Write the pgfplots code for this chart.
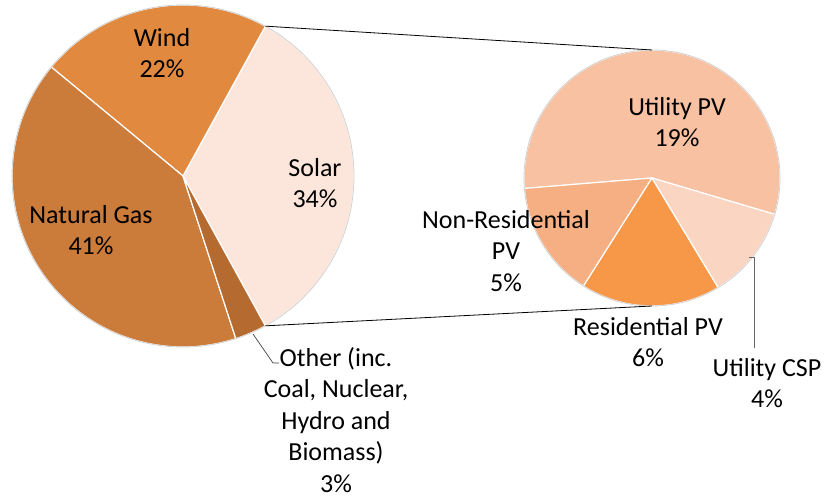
\documentclass[border=0pt]{standalone}
\usepackage{pgfplots}
\pgfplotsset{compat=1.18}
\usepackage{pgfplotstable}
\usepackage{fontspec}
\setmainfont{Carlito}

\definecolor{solar}{HTML}{FCE5DA}
\definecolor{wind}{HTML}{E0893F}
\definecolor{gas}{HTML}{CB7B3A}
\definecolor{other}{HTML}{B56A30}
\definecolor{upv}{HTML}{F8C1A1}
\definecolor{nrpv}{HTML}{F6AF83}
\definecolor{rpv}{HTML}{F79848}
\definecolor{csp}{HTML}{F9D5C2}

% first pie, counter-clockwise from the split-off slice
\pgfplotstableread[col sep=comma]{
name,value,col
Solar,34,solar
Wind,22,wind
Natural Gas,41,gas
Other,3,other
}\mainpie

% second pie (breakdown of solar)
\pgfplotstableread[col sep=comma]{
name,value,col
Utility PV,19,upv
Non-Residential PV,5,nrpv
Residential PV,6,rpv
Utility CSP,4,csp
}\subpie

% #1 table, #2 cx, #3 cy, #4 radius, #5 start angle
\newcommand\drawpie[5]{%
  \gdef\pietotal{0}%
  \pgfplotstableforeachcolumnelement{value}\of#1\as\pv{%
    \pgfmathsetmacro\pt{\pietotal+\pv}\xdef\pietotal{\pt}}%
  \xdef\pieA{#5}%
  \pgfplotstableforeachcolumnelement{value}\of#1\as\pv{%
    \pgfplotstablegetelem{\pgfplotstablerow}{col}\of#1\let\pc\pgfplotsretval
    \pgfmathsetmacro\pieB{\pieA+\pv/\pietotal*360}%
    \fill[fill=\pc,draw=white,line width=1.2pt] (axis cs:#2,#3) -- ++(\pieA:#4pt)
      arc[start angle=\pieA,end angle=\pieB,radius=#4pt] -- cycle;
    \xdef\pieA{\pieB}}%
  \draw[black!18,line width=0.8pt] (axis cs:#2,#3) circle[radius=#4pt];
}

\tikzset{lbl/.style={align=center,inner sep=0pt,font=\fontsize{26}{31.5}\selectfont}}

\begin{document}
\begin{tikzpicture}
\begin{axis}[x=1pt,y=1pt,xmin=0,xmax=827,ymin=0,ymax=500,hide axis,clip=false,
  anchor=south west,at={(0,0)}]
\pgfplotsextra{
  \pgfplotstablegetelem{0}{value}\of\mainpie
  \pgfmathsetmacro\half{\pgfplotsretval/100*180}
  \drawpie{\mainpie}{183}{324}{171}{-\half}
  \drawpie{\subpie}{652}{322}{128}{-16.5}
  % connector lines
  \draw[black,line width=0.8pt] (axis cs:183,324) ++(\half:171pt) -- (axis cs:652,450);
  \draw[black,line width=0.8pt] (axis cs:183,324) ++(-\half:171pt) -- (axis cs:652,194);
  % leader lines
  \draw[black!75,line width=0.7pt] (axis cs:253,166) -- (axis cs:273,137) -- (axis cs:279,137);
  \draw[black!60,line width=0.7pt] (axis cs:749,243) -- (axis cs:754,243) -- (axis cs:754,152);
  % labels
  \node[lbl] at (axis cs:162,447) {Wind\\22\%};
  \node[lbl] at (axis cs:315,317) {Solar\\34\%};
  \node[lbl] at (axis cs:91,270) {Natural Gas\\41\%};
  \node[lbl] at (axis cs:336,80) {Other (inc.\\Coal, Nuclear,\\Hydro and\\Biomass)\\3\%};
  \node[lbl] at (axis cs:677,378) {Utility PV\\19\%};
  \node[lbl] at (axis cs:506,249) {Non-Residential\\PV\\5\%};
  \node[lbl] at (axis cs:648,158) {Residential PV\\6\%};
  \node[lbl] at (axis cs:767,117) {Utility CSP\\4\%};
}
\end{axis}
\pgfresetboundingbox
\path (0,0) rectangle (827pt,500pt);
\end{tikzpicture}
\end{document}
